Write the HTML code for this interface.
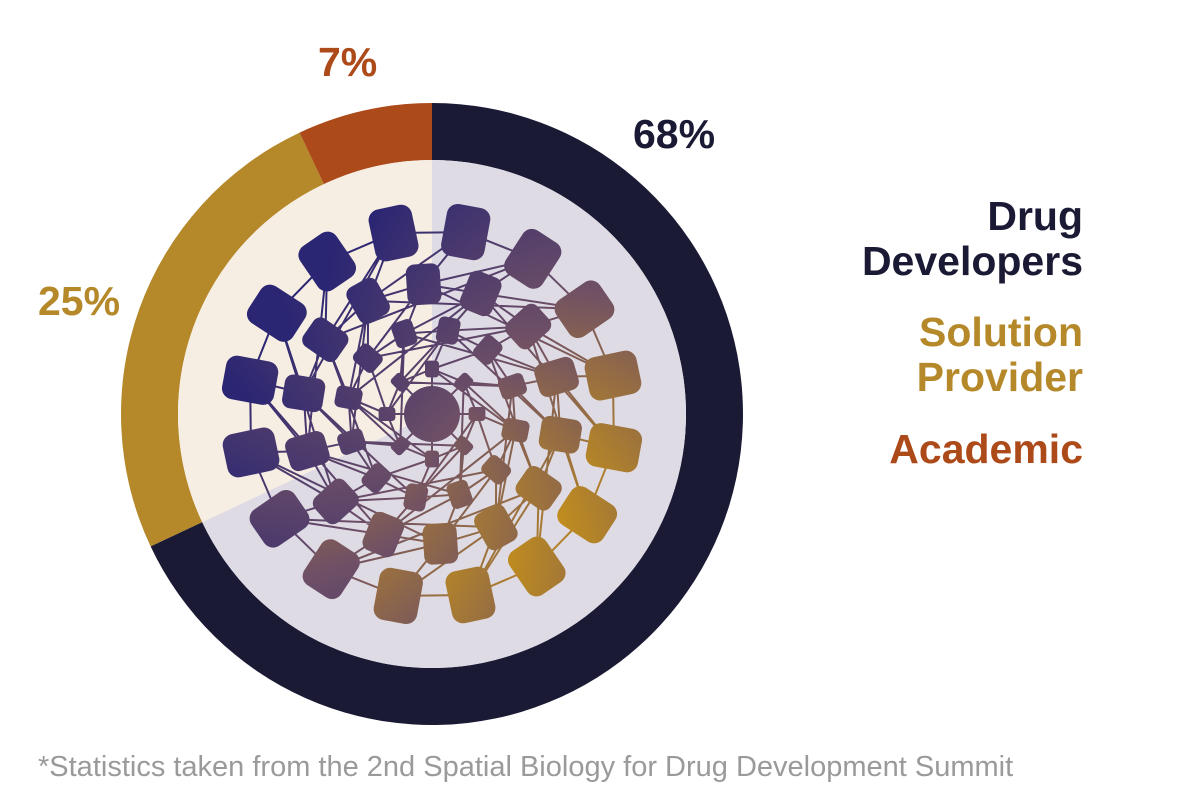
<!DOCTYPE html>
<html><head><meta charset="utf-8"><style>
html,body{margin:0;padding:0;background:#fff;}
body{width:1186px;height:810px;overflow:hidden;position:relative;font-family:"Liberation Sans",sans-serif;}
.t{position:absolute;font-weight:bold;font-size:41px;white-space:nowrap;line-height:1;}
</style></head><body>
<svg id="s" width="1186" height="810" style="position:absolute;left:0;top:0">
<defs>
<linearGradient id="g" gradientUnits="userSpaceOnUse" x1="300" y1="300" x2="600" y2="560">
<stop offset="0" stop-color="#2b2673"/><stop offset="0.5" stop-color="#6e4f66"/><stop offset="1" stop-color="#c4901a"/>
</linearGradient>
</defs>
<g id="d"></g><g id="n"></g>
</svg>
<div class="t" style="left:318px;top:42px;color:#ad4a1a">7%</div>
<div class="t" style="left:633px;top:114px;color:#1b1a35">68%</div>
<div class="t" style="left:38px;top:281px;color:#b5882a">25%</div>
<div class="t" style="right:103px;top:196px;color:#1b1a35;text-align:right">Drug</div>
<div class="t" style="right:103px;top:241px;color:#1b1a35;text-align:right">Developers</div>
<div class="t" style="right:103px;top:312px;color:#b5882a;text-align:right">Solution</div>
<div class="t" style="right:103px;top:357px;color:#b5882a;text-align:right">Provider</div>
<div class="t" style="right:103px;top:429px;color:#ad4a1a;text-align:right">Academic</div>
<div style="position:absolute;left:38px;top:751px;font-size:29px;color:#9a9a9a;white-space:nowrap">*Statistics taken from the 2nd Spatial Biology for Drug Development Summit</div>
<script>
var cx=432,cy=414,R=311,r=254,NS="http://www.w3.org/2000/svg";
function P(a,rad){a=a*Math.PI/180;return [cx+rad*Math.sin(a),cy-rad*Math.cos(a)];}
function wedge(a0,a1,ro,ri,col){var p0=P(a0,ro),p1=P(a1,ro),q1=P(a1,ri),q0=P(a0,ri),l=(a1-a0)>180?1:0;
var d="M"+p0+" A"+ro+" "+ro+" 0 "+l+" 1 "+p1+" L"+q1+(ri>0?" A"+ri+" "+ri+" 0 "+l+" 0 "+q0:"")+" Z";
var e=document.createElementNS(NS,"path");e.setAttribute("d",d);e.setAttribute("fill",col);document.getElementById("d").appendChild(e);}
wedge(0,244.8,R,r,"#1b1a35");wedge(244.8,334.8,R,r,"#b5882a");wedge(334.8,360,R,r,"#ad4a1a");
wedge(0,244.8,r,0,"#dfdbe4");wedge(244.8,360,r,0,"#f6ede3");
var g=document.getElementById("n");
var rings=[[45,8,14],[85,12,22],[130,14,34],[185,16,44]];var nodes=[];
rings.forEach(function(rg,i){var arr=[];for(var k=0;k<rg[1];k++){var a=k*360/rg[1]+i*11;var p=P(a,rg[0]);arr.push([p[0],p[1],rg[2],a]);}nodes.push(arr);});
var lines="";
for(var i=0;i<nodes.length;i++){var A=nodes[i];for(var k=0;k<A.length;k++){var b=A[(k+1)%A.length];lines+="M"+A[k][0]+" "+A[k][1]+"L"+b[0]+" "+b[1];
if(i+1<nodes.length){var B=nodes[i+1];var j=Math.round(k*B.length/A.length);[j,(j+1)%B.length,(j+3)%B.length].forEach(function(m){lines+="M"+A[k][0]+" "+A[k][1]+"L"+B[m][0]+" "+B[m][1];});}
if(i==0)lines+="M"+cx+" "+cy+"L"+A[k][0]+" "+A[k][1];}}
var pl=document.createElementNS(NS,"path");pl.setAttribute("d",lines);pl.setAttribute("stroke","url(#g)");pl.setAttribute("stroke-width","2");pl.setAttribute("fill","none");g.appendChild(pl);
var c=document.createElementNS(NS,"circle");c.setAttribute("cx",cx);c.setAttribute("cy",cy);c.setAttribute("r",28);c.setAttribute("fill","url(#g)");g.appendChild(c);
nodes.forEach(function(A){A.forEach(function(n){var e=document.createElementNS(NS,"rect");var w=n[2],h=n[2]*1.2;
e.setAttribute("x",n[0]-w/2);e.setAttribute("y",n[1]-h/2);e.setAttribute("width",w);e.setAttribute("height",h);e.setAttribute("rx",w*0.25);
e.setAttribute("fill","url(#g)");e.setAttribute("transform","rotate("+n[3]+" "+n[0]+" "+n[1]+")");g.appendChild(e);});});
</script>
</body></html>
